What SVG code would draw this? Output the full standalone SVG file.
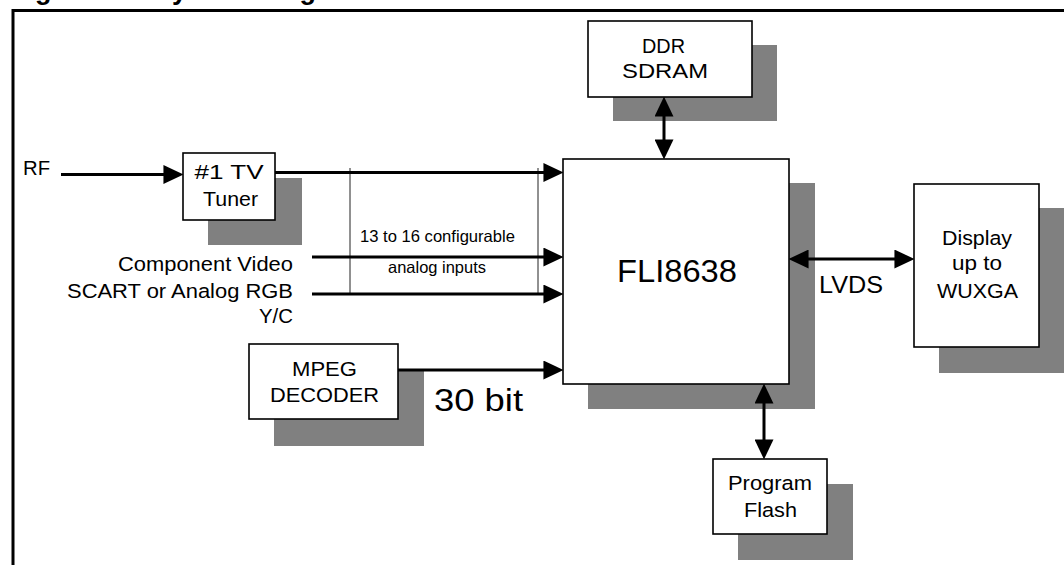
<svg xmlns="http://www.w3.org/2000/svg" width="1064" height="565" viewBox="0 0 1064 565">
<style>
text{font-family:"Liberation Sans",Arial,sans-serif;fill:#000}
.box{fill:#fff;stroke:#000;stroke-width:1.6}
.sh{fill:#808080}
.t{font-size:20.5px;text-anchor:middle}
.w{stroke:#000;stroke-width:3;fill:none}
.thin{stroke:#222;stroke-width:1;fill:none}
</style>
<defs>
<marker id="ah" markerUnits="userSpaceOnUse" markerWidth="20" markerHeight="19" refX="11" refY="9" orient="auto-start-reverse" viewBox="0 0 19 18">
<path d="M0,0 L19,9 L0,18 z" fill="#000"/>
</marker>
</defs>
<rect width="1064" height="565" fill="#fff"/>
<g id="frame">
<path d="M13,565 V10.5 H1064" stroke="#000" stroke-width="3" fill="none"/>
</g>
<text id="title" y="-1" font-size="27" font-weight="bold"><tspan x="11">Figure 1.</tspan><tspan x="154">System Diagram</tspan></text>
<g id="tuner">
<rect class="sh" x="208" y="178" width="94" height="67"/>
<rect class="box" x="183" y="153" width="92" height="67"/>
<text class="t" x="229" y="179" textLength="69" lengthAdjust="spacingAndGlyphs">#1 TV</text>
<text class="t" x="230.5" y="206" textLength="55" lengthAdjust="spacingAndGlyphs">Tuner</text>
</g>
<g id="ddr">
<rect class="sh" x="613" y="45" width="164" height="76"/>
<rect class="box" x="588" y="21" width="164" height="76"/>
<text class="t" x="663.5" y="53" textLength="43" lengthAdjust="spacingAndGlyphs">DDR</text>
<text class="t" x="665" y="78" textLength="86" lengthAdjust="spacingAndGlyphs">SDRAM</text>
</g>
<g id="fli">
<rect class="sh" x="588" y="183" width="227" height="226"/>
<rect class="box" x="563" y="159" width="226" height="225"/>
<text x="677" y="282" font-size="32" text-anchor="middle" textLength="120" lengthAdjust="spacingAndGlyphs">FLI8638</text>
</g>
<g id="display">
<rect class="sh" x="939" y="208" width="125" height="165"/>
<rect class="box" x="914" y="184" width="125" height="163"/>
<text class="t" x="977" y="245" textLength="70" lengthAdjust="spacingAndGlyphs">Display</text>
<text class="t" x="977" y="270" textLength="50" lengthAdjust="spacingAndGlyphs">up to</text>
<text class="t" x="977.5" y="298" textLength="81" lengthAdjust="spacingAndGlyphs">WUXGA</text>
</g>
<g id="mpeg">
<rect class="sh" x="274" y="370" width="150" height="76"/>
<rect class="box" x="249" y="344" width="149" height="75"/>
<text class="t" x="324.5" y="376" textLength="65" lengthAdjust="spacingAndGlyphs">MPEG</text>
<text class="t" x="324.5" y="402" textLength="109" lengthAdjust="spacingAndGlyphs">DECODER</text>
</g>
<g id="flash">
<rect class="sh" x="738" y="484" width="115" height="76"/>
<rect class="box" x="713" y="459" width="114" height="75"/>
<text class="t" x="770" y="490" textLength="84" lengthAdjust="spacingAndGlyphs">Program</text>
<text class="t" x="770.5" y="517" textLength="53" lengthAdjust="spacingAndGlyphs">Flash</text>
</g>
<g id="labels">
<text x="23" y="175" font-size="20.5" textLength="27" lengthAdjust="spacingAndGlyphs">RF</text>
<text x="293" y="271" font-size="20.5" text-anchor="end" textLength="175" lengthAdjust="spacingAndGlyphs">Component Video</text>
<text x="293" y="298" font-size="20.5" text-anchor="end" textLength="226" lengthAdjust="spacingAndGlyphs">SCART or Analog RGB</text>
<text x="293" y="323" font-size="20.5" text-anchor="end" textLength="34" lengthAdjust="spacingAndGlyphs">Y/C</text>
<text x="437.5" y="242" font-size="16.5" text-anchor="middle" textLength="155" lengthAdjust="spacingAndGlyphs">13 to 16 configurable</text>
<text x="437" y="273" font-size="16.5" text-anchor="middle" textLength="98" lengthAdjust="spacingAndGlyphs">analog inputs</text>
<text x="819" y="293" font-size="24.5" textLength="64" lengthAdjust="spacingAndGlyphs">LVDS</text>
<text x="434" y="411" font-size="31" textLength="89" lengthAdjust="spacingAndGlyphs">30 bit</text>
</g>
<g id="connectors">
<line class="thin" x1="350" y1="168" x2="350" y2="294"/>
<line class="thin" x1="538" y1="168" x2="538" y2="294"/>
<line class="w" x1="61" y1="174.5" x2="175" y2="174.5" marker-end="url(#ah)"/>
<line class="w" x1="275" y1="172.5" x2="555" y2="172.5" marker-end="url(#ah)"/>
<line class="w" x1="312" y1="257" x2="555" y2="257" marker-end="url(#ah)"/>
<line class="w" x1="312" y1="294" x2="555" y2="294" marker-end="url(#ah)"/>
<line class="w" x1="398" y1="370" x2="555" y2="370" marker-end="url(#ah)"/>
<line class="w" x1="664" y1="105" x2="664" y2="151" marker-start="url(#ah)" marker-end="url(#ah)"/>
<line class="w" x1="797" y1="259" x2="906" y2="259" marker-start="url(#ah)" marker-end="url(#ah)"/>
<line class="w" x1="764" y1="392" x2="764" y2="451" marker-start="url(#ah)" marker-end="url(#ah)"/>
</g>
</svg>
